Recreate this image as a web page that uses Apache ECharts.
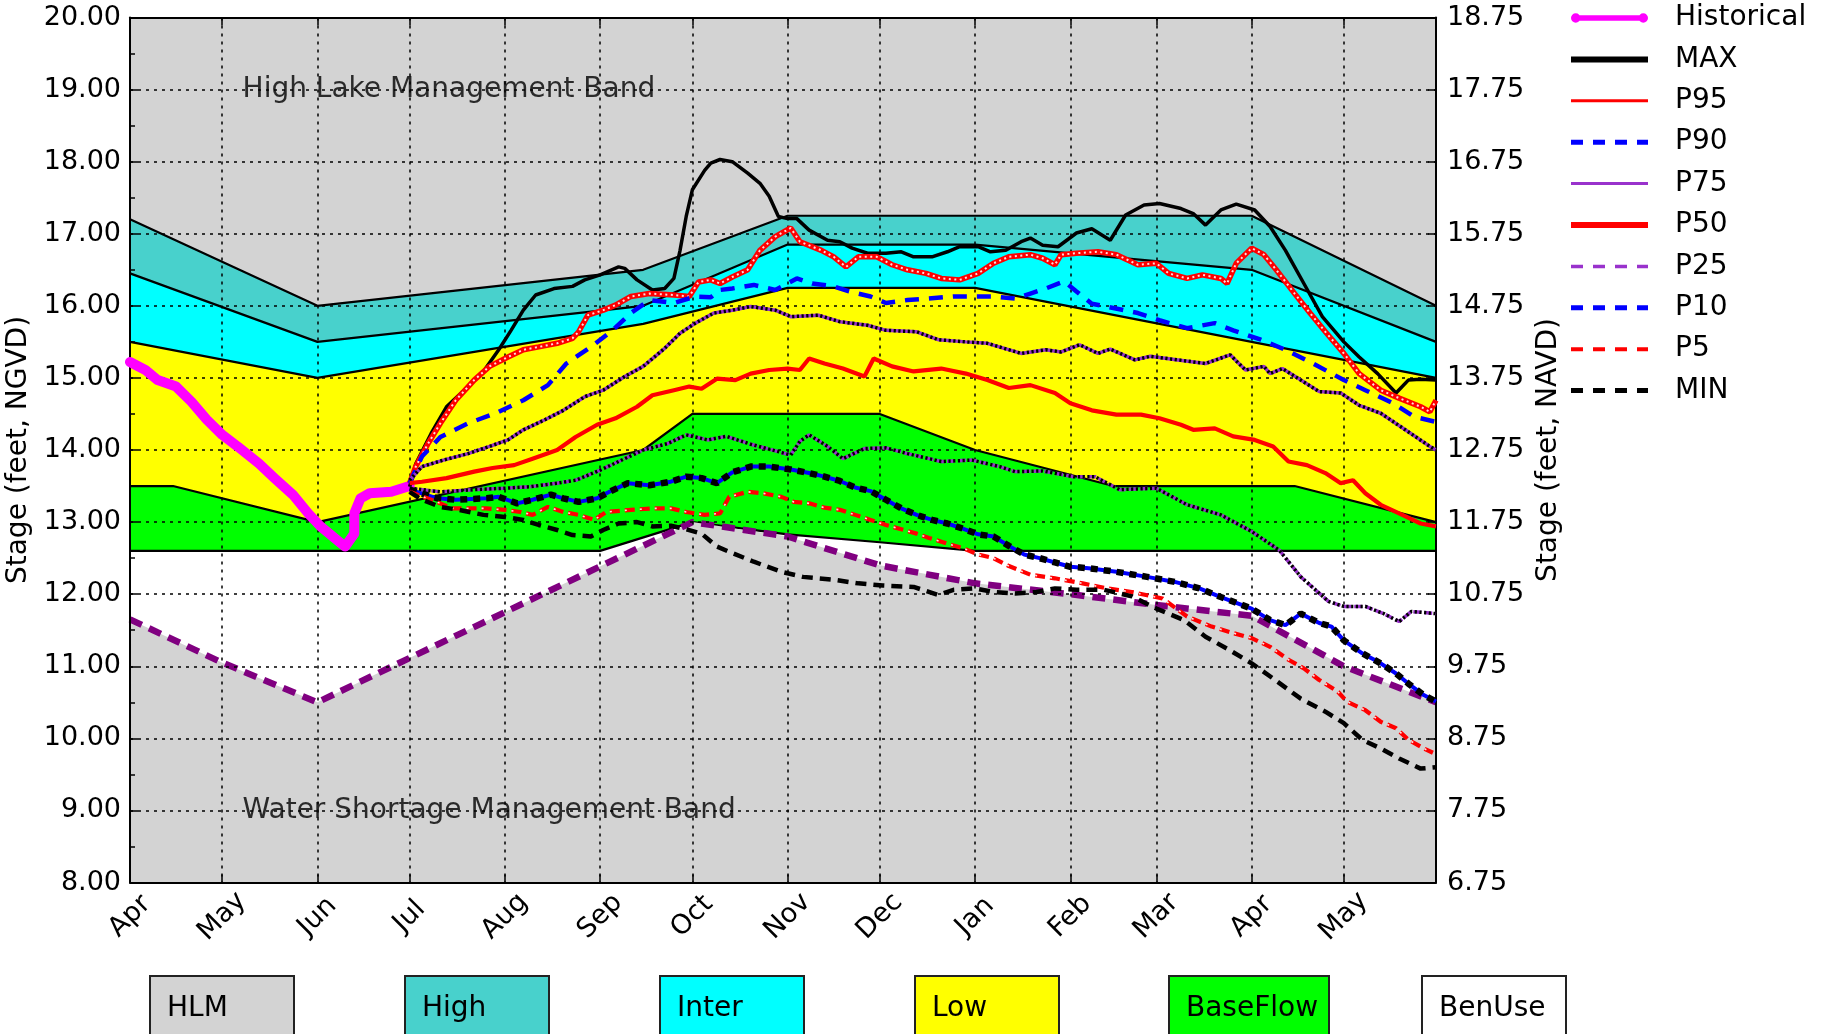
<!DOCTYPE html>
<html><head><meta charset="utf-8">
<script src="https://cdn.jsdelivr.net/npm/echarts@6/dist/echarts.min.js"></script>
<style>html,body{margin:0;padding:0;background:#fff}#c{width:1825px;height:1034px}</style>
</head><body><div id="c"></div>
<script>
// ---- categories (daily, Apr 1 .. May 31 of next year) ----
const monthNames = ['Apr','May','Jun','Jul','Aug','Sep','Oct','Nov','Dec','Jan','Feb','Mar','Apr','May'];
const monthDays  = [30,31,30,31,31,30,31,30,31,31,28,31,30,31];
const leftTicks  = [8,9,10,11,12,13,14,15,16,17,18,19,20];
const rightTicks = [6.75,7.75,8.75,9.75,10.75,11.75,12.75,13.75,14.75,15.75,16.75,17.75,18.75];

// ---- management band boundaries [dayIndex, stage] ----
const bandHighTop   = [[0,17.2],[61,16.0],[167,16.5],[214,17.25],[365,17.25],[425,16.0]];
const bandInterTop  = [[0,16.45],[61,15.5],[167,16.0],[214,16.85],[275,16.85],[365,16.5],[425,15.5]];
const bandLowTop    = [[0,15.5],[61,15.0],[167,15.75],[214,16.25],[275,16.25],[425,15.0]];
const bandBaseTop   = [[0,13.5],[14,13.5],[61,13.0],[167,14.0],[183,14.5],[244,14.5],[275,14.0],[320,13.5],[379,13.5],[425,13.0]];
const bandBaseBottom= [[0,12.6],[153,12.6],[183,13.0],[214,12.83],[244,12.72],[275,12.6],[425,12.6]];
const wsmLine       = [[0,11.65],[30,11.05],[61,10.5],[183,13.0],[214,12.8],[244,12.4],[275,12.15],[306,12.0],[334,11.85],[365,11.7],[395,11.0],[425,10.5]];

// ---- series values [dayIndex, stage] ----
const historical = [[0,15.22],[5,15.11],[9,14.97],[15,14.88],[20,14.67],[25,14.42],[30,14.21],[35,14.05],[42,13.81],[47,13.61],[53,13.38],[58,13.12],[62,12.94],[68,12.73],[70,12.66],[73,12.84],[73,13.12],[75,13.33],[78,13.4],[85,13.42],[91,13.5]];
const pMax = [[91,13.49],[93,13.81],[98,14.23],[103,14.6],[110,14.88],[115,15.09],[120,15.39],[124,15.66],[128,15.94],[132,16.15],[138,16.24],[144,16.27],[148,16.36],[153,16.43],[159,16.54],[161,16.52],[165,16.36],[170,16.22],[174,16.24],[177,16.38],[179,16.77],[181,17.24],[183,17.61],[187,17.88],[189,17.98],[192,18.03],[196,18.0],[201,17.84],[205,17.7],[208,17.52],[211,17.24],[214,17.21],[217,17.21],[221,17.05],[227,16.91],[231,16.89],[235,16.8],[240,16.73],[246,16.73],[251,16.75],[255,16.68],[261,16.68],[266,16.75],[270,16.82],[276,16.82],[280,16.75],[285,16.77],[290,16.89],[293,16.94],[297,16.84],[302,16.82],[308,17.01],[313,17.07],[319,16.91],[324,17.26],[330,17.4],[335,17.42],[342,17.35],[346,17.28],[350,17.12],[355,17.33],[360,17.41],[366,17.33],[371,17.1],[376,16.77],[382,16.31],[388,15.85],[395,15.5],[400,15.29],[406,15.06],[412,14.79],[416,14.97],[420,14.98],[425,14.97]];
const p95 = [[91,13.54],[93,13.77],[97,14.09],[101,14.37],[106,14.69],[112,14.97],[117,15.16],[123,15.29],[128,15.39],[133,15.43],[139,15.48],[144,15.55],[146,15.64],[149,15.87],[154,15.94],[158,16.01],[163,16.13],[169,16.17],[177,16.15],[182,16.13],[185,16.33],[189,16.36],[192,16.31],[196,16.4],[201,16.5],[205,16.77],[210,16.96],[215,17.08],[218,16.89],[225,16.77],[229,16.68],[233,16.54],[237,16.68],[243,16.68],[248,16.57],[253,16.5],[259,16.45],[264,16.38],[270,16.36],[276,16.45],[281,16.59],[286,16.68],[293,16.71],[297,16.66],[301,16.57],[303,16.71],[308,16.73],[315,16.75],[321,16.71],[328,16.57],[334,16.59],[338,16.45],[344,16.38],[349,16.43],[355,16.38],[357,16.31],[360,16.59],[365,16.8],[369,16.71],[373,16.5],[379,16.17],[384,15.9],[389,15.64],[395,15.34],[400,15.06],[407,14.83],[413,14.72],[420,14.6],[423,14.53],[425,14.69]];
const p90 = [[91,13.54],[95,13.91],[101,14.18],[110,14.37],[119,14.51],[128,14.69],[136,14.9],[142,15.2],[150,15.43],[157,15.66],[163,15.9],[169,16.08],[177,16.04],[184,16.13],[189,16.12],[192,16.22],[196,16.24],[203,16.29],[210,16.22],[217,16.38],[222,16.31],[229,16.27],[234,16.2],[241,16.13],[246,16.04],[253,16.08],[259,16.1],[268,16.13],[274,16.13],[281,16.13],[288,16.1],[293,16.17],[298,16.24],[304,16.34],[308,16.2],[313,16.03],[320,15.97],[328,15.9],[335,15.8],[344,15.69],[353,15.76],[359,15.66],[368,15.53],[376,15.39],[385,15.2],[395,14.97],[402,14.83],[411,14.65],[418,14.46],[425,14.39]];
const p75 = [[91,13.58],[95,13.77],[102,13.86],[110,13.95],[117,14.05],[123,14.14],[128,14.28],[135,14.42],[141,14.55],[148,14.74],[154,14.83],[161,15.02],[167,15.16],[174,15.41],[179,15.62],[184,15.76],[190,15.9],[196,15.94],[202,15.99],[210,15.94],[215,15.85],[224,15.87],[231,15.78],[240,15.73],[246,15.66],[256,15.64],[263,15.53],[272,15.5],[279,15.48],[290,15.34],[298,15.39],[303,15.36],[309,15.46],[315,15.34],[319,15.4],[327,15.25],[332,15.3],[341,15.25],[350,15.2],[358,15.32],[363,15.11],[369,15.16],[371,15.06],[375,15.13],[381,14.97],[387,14.81],[394,14.79],[400,14.62],[407,14.51],[415,14.28],[423,14.05],[425,14.0]];
const p50 = [[91,13.54],[95,13.56],[103,13.61],[112,13.7],[118,13.75],[125,13.79],[131,13.88],[139,14.0],[145,14.18],[152,14.35],[158,14.44],[165,14.6],[170,14.76],[177,14.83],[182,14.88],[186,14.85],[191,14.99],[197,14.97],[202,15.06],[208,15.11],[214,15.13],[218,15.11],[221,15.27],[226,15.2],[232,15.13],[239,15.02],[242,15.27],[248,15.16],[255,15.09],[264,15.13],[272,15.06],[279,14.97],[286,14.86],[293,14.9],[301,14.79],[306,14.65],[313,14.55],[321,14.49],[329,14.49],[335,14.44],[342,14.35],[346,14.28],[353,14.3],[359,14.19],[366,14.14],[372,14.05],[377,13.84],[383,13.79],[389,13.68],[394,13.54],[398,13.58],[402,13.4],[407,13.24],[413,13.12],[420,12.98],[425,12.94]];
const p25 = [[91,13.47],[101,13.42],[112,13.45],[122,13.47],[130,13.49],[139,13.54],[145,13.58],[153,13.72],[161,13.88],[167,14.0],[175,14.09],[181,14.21],[188,14.14],[194,14.19],[202,14.08],[209,14.0],[215,13.93],[218,14.12],[221,14.21],[227,14.05],[232,13.88],[239,14.02],[246,14.03],[253,13.95],[264,13.84],[274,13.86],[283,13.77],[288,13.7],[297,13.71],[307,13.63],[314,13.63],[322,13.45],[334,13.47],[344,13.24],[355,13.1],[365,12.87],[374,12.61],[381,12.24],[390,11.9],[395,11.83],[402,11.83],[408,11.73],[413,11.62],[417,11.76],[425,11.73]];
const p10 = [[91,13.45],[100,13.33],[106,13.31],[116,13.33],[120,13.35],[126,13.26],[131,13.31],[137,13.38],[141,13.33],[146,13.28],[152,13.33],[156,13.42],[162,13.54],[169,13.51],[176,13.56],[181,13.63],[186,13.61],[191,13.54],[196,13.69],[202,13.77],[208,13.77],[215,13.73],[221,13.68],[226,13.63],[231,13.57],[236,13.48],[241,13.43],[246,13.31],[251,13.19],[256,13.1],[261,13.03],[266,12.98],[271,12.91],[276,12.83],[281,12.8],[286,12.67],[291,12.55],[296,12.5],[301,12.44],[306,12.38],[312,12.36],[321,12.31],[331,12.24],[340,12.17],[348,12.08],[355,11.96],[365,11.8],[371,11.64],[376,11.57],[381,11.73],[387,11.6],[391,11.55],[395,11.36],[401,11.18],[407,11.04],[412,10.9],[416,10.76],[421,10.6],[425,10.51]];
const p5 = [[91,13.42],[98,13.31],[105,13.19],[111,13.19],[116,13.19],[122,13.17],[127,13.14],[131,13.1],[136,13.21],[141,13.14],[146,13.1],[151,13.03],[155,13.14],[163,13.17],[170,13.19],[176,13.19],[181,13.14],[187,13.1],[192,13.12],[195,13.35],[201,13.42],[206,13.4],[212,13.35],[216,13.28],[221,13.26],[226,13.2],[231,13.17],[236,13.1],[241,13.03],[246,12.96],[251,12.9],[256,12.84],[260,12.78],[266,12.7],[271,12.64],[276,12.55],[281,12.5],[286,12.39],[293,12.27],[301,12.22],[310,12.15],[318,12.08],[326,12.03],[336,11.94],[344,11.69],[352,11.55],[359,11.46],[365,11.39],[371,11.27],[377,11.09],[382,10.97],[387,10.81],[393,10.65],[396,10.51],[402,10.39],[407,10.23],[412,10.14],[416,9.98],[421,9.86],[424,9.8]];
const pMin = [[91,13.42],[95,13.31],[101,13.21],[107,13.17],[115,13.1],[122,13.07],[128,13.03],[133,12.96],[139,12.89],[144,12.82],[150,12.8],[154,12.89],[159,12.98],[165,13.0],[170,12.94],[176,12.95],[181,12.9],[186,12.84],[191,12.66],[196,12.57],[203,12.45],[212,12.31],[219,12.24],[229,12.2],[237,12.15],[245,12.12],[255,12.1],[263,11.99],[268,12.06],[275,12.08],[281,12.03],[288,12.01],[295,12.03],[301,12.08],[308,12.06],[317,12.06],[326,11.97],[334,11.8],[343,11.64],[350,11.41],[358,11.22],[365,11.04],[372,10.83],[381,10.55],[389,10.37],[395,10.21],[401,9.98],[407,9.86],[413,9.72],[420,9.58],[425,9.6]];

const bandLegend = [
  {name:'HLM', color:'#d3d3d3'}, {name:'High', color:'#48d1cc'}, {name:'Inter', color:'#00ffff'},
  {name:'Low', color:'#ffff00'}, {name:'BaseFlow', color:'#00ff00'}, {name:'BenUse', color:'#ffffff'}
];

// ---- build categories ----
const categories = [];
const monthStart = new Set();
monthNames.forEach((m, i) => {
  monthStart.add(categories.length);
  for (let d = 1; d <= monthDays[i]; d++) categories.push(m + ' ' + d);
});
const monthLabelAt = {};
{ let c = 0; monthNames.forEach((m, i) => { monthLabelAt[c] = m; c += monthDays[i]; }); }
const isMonth = (idx) => monthStart.has(idx);

const FONT = 'DejaVu Sans';
const chart = echarts.init(document.getElementById('c'), null, {renderer: 'canvas'});

function band(name, data, color) {
  return {name, type:'line', data, symbol:'none', silent:true, z:1, animation:false,
    lineStyle:{color:'#000', width:2.2}, areaStyle:{color, opacity:1, origin:'start'}};
}
function line(name, data, style, z) {
  return {name, type:'line', data, symbol:'none', z: z || 4, silent:true, animation:false,
    lineStyle: style, itemStyle:{color: style.color}};
}

const series = [
  band('bHigh', bandHighTop, '#48d1cc'),
  band('bInter', bandInterTop, '#00ffff'),
  band('bLow', bandLowTop, '#ffff00'),
  band('bBase', bandBaseTop, '#00ff00'),
  band('bBen', bandBaseBottom, '#ffffff'),
  {name:'wsm', type:'line', data:wsmLine, symbol:'none', silent:true, z:2,
   lineStyle:{color:'#800080', width:6.5, type:[13,8]}, areaStyle:{color:'#d3d3d3', opacity:1, origin:'start'}},
  line('Historical', historical, {color:'#ff00ff', width:10, cap:'round', join:'round'}),
  line('MAX', pMax, {color:'#000000', width:3.5}),
  line('P95', p95, {color:'#ff0000', width:5.5}),
  line('_p95', p95, {color:'#ffdede', width:2, type:[2,3.5]}),
  line('P90', p90, {color:'#0000ff', width:4.5, type:[14,10]}),
  line('P75', p75, {color:'#9932cc', width:3.5}),
  line('_p75', p75, {color:'#000000', width:3.5, type:[2.2,2.5]}),
  line('P50', p50, {color:'#ff0000', width:4.2}),
  line('P25', p25, {color:'#9932cc', width:3.5, type:[8,3]}),
  line('_p25', p25, {color:'#000000', width:3.5, type:[2.2,2.5]}),
  line('P10', p10, {color:'#0000ff', width:4}),
  line('_p10', p10, {color:'#000000', width:6.5, type:[7,6]}),
  line('P5', p5, {color:'#ff0000', width:4.2, type:[10,5]}),
  line('_p5', p5, {color:'#ffdede', width:1.6, type:[2,13]}),
  line('MIN', pMin, {color:'#000000', width:4.5, type:[11,7]}),
  {type:'scatter', data:[[35,19.0]], symbolSize:0.1, itemStyle:{color:'transparent'}, z:6, silent:true,
   label:{show:true, position:'right', distance:5, formatter:'High Lake Management Band', fontSize:28, fontFamily:FONT, color:'#000'}},
  {type:'scatter', data:[[35,9.0]], symbolSize:0.1, itemStyle:{color:'transparent'}, z:6, silent:true,
   label:{show:true, position:'right', distance:5, formatter:'Water Shortage Management Band', fontSize:28, fontFamily:FONT, color:'#000'}}
];

const gridDash = {color:'#000', width:1.5, type:[3,5]};
const graphics = [];
bandLegend.forEach((b, i) => {
  const xs = [149, 404, 659, 914, 1168, 1421][i];
  const w = b.name === 'BaseFlow' ? 160 : 144;
  graphics.push({type:'rect', left: xs, top: 975, shape:{width:w, height:80},
    style:{fill:b.color, stroke:'#222', lineWidth:2}, z:10});
  graphics.push({type:'text', left: xs + 18, top: 995, style:{text:b.name, fontSize:28, fontFamily:FONT, fill:'#000'}, z:11});
});

const noSym = {opacity:0};
chart.setOption({
  animation:false,
  backgroundColor:'#ffffff',
  grid:{left:130, right:389, top:17.5, bottom:151.5, show:true, backgroundColor:'#d3d3d3', borderWidth:0, containLabel:false, outerBoundsMode:'none'},
  legend:{orient:'vertical', left:1568, top:3, padding:0, itemWidth:77, itemHeight:14, itemGap:11.4,
    textStyle:{fontSize:28, lineHeight:30, fontFamily:FONT, color:'#000', padding:[0,0,0,22]},
    selectedMode:false,
    data:[
      {name:'Historical', icon:'path://M0,3 L100,3 L100,11 L0,11 Z M-7,7 a7,7 0 1,1 14,0 a7,7 0 1,1 -14,0 Z M93,7 a7,7 0 1,1 14,0 a7,7 0 1,1 -14,0 Z', itemStyle:{color:'#ff00ff'}},
      {name:'MAX', lineStyle:{width:6}, itemStyle:noSym},
      {name:'P95', lineStyle:{width:3}, itemStyle:noSym},
      {name:'P90', lineStyle:{width:5, type:[12,10]}, itemStyle:noSym},
      {name:'P75', lineStyle:{width:3}, itemStyle:noSym},
      {name:'P50', lineStyle:{width:6}, itemStyle:noSym},
      {name:'P25', lineStyle:{width:3.5, type:[12,10]}, itemStyle:noSym},
      {name:'P10', lineStyle:{width:5, type:[12,10]}, itemStyle:noSym},
      {name:'P5', lineStyle:{width:4, type:[12,10]}, itemStyle:noSym},
      {name:'MIN', lineStyle:{width:5, type:[12,10]}, itemStyle:noSym}
    ]},
  xAxis:[
    {type:'category', data:categories, boundaryGap:false, position:'bottom', z:3,
     axisLine:{show:true, onZero:false, lineStyle:{color:'#000', width:2}},
     axisTick:{show:true, inside:true, length:8, interval:(i)=>isMonth(i), lineStyle:{color:'#000', width:1.5}},
     axisLabel:{show:true, interval:(i)=>isMonth(i), formatter:(v,i)=>monthLabelAt[i] || '', rotate:45, margin:34,
       align:'center', verticalAlign:'middle', fontSize:27, fontFamily:FONT, color:'#000'},
     splitLine:{show:true, interval:(i)=>isMonth(i), lineStyle:gridDash}},
    {type:'category', data:categories, boundaryGap:false, position:'top', z:3,
     axisLine:{show:true, onZero:false, lineStyle:{color:'#000', width:2}},
     axisTick:{show:true, inside:true, length:8, interval:(i)=>isMonth(i), lineStyle:{color:'#000', width:1.5}},
     axisLabel:{show:false}, splitLine:{show:false}}
  ],
  yAxis:[
    {type:'value', min:leftTicks[0], max:leftTicks[leftTicks.length-1], interval:1, position:'left', z:3,
     name:'Stage (feet, NGVD)', nameLocation:'middle', nameGap:85, nameRotate:90,
     nameTextStyle:{fontSize:28, fontFamily:FONT, color:'#000'},
     axisLine:{show:true, lineStyle:{color:'#000', width:2}},
     axisTick:{show:true, inside:true, length:8, lineStyle:{color:'#000', width:1.5}},
     minorTick:{show:true, splitNumber:2, length:5, lineStyle:{color:'#000', width:1.5}},
     axisLabel:{formatter:(v)=>v.toFixed(2), margin:9, fontSize:27, fontFamily:FONT, color:'#000'},
     splitLine:{show:true, lineStyle:gridDash}},
    {type:'value', min:rightTicks[0], max:rightTicks[rightTicks.length-1], interval:1, position:'right', z:3,
     name:'Stage (feet, NAVD)', nameLocation:'middle', nameGap:83, nameRotate:90,
     nameTextStyle:{fontSize:28, fontFamily:FONT, color:'#000'},
     axisLine:{show:true, lineStyle:{color:'#000', width:2}},
     axisTick:{show:true, inside:true, length:8, lineStyle:{color:'#000', width:1.5}},
     axisLabel:{formatter:(v)=>v.toFixed(2), margin:11, fontSize:27, fontFamily:FONT, color:'#000'},
     splitLine:{show:false}}
  ],
  graphic: graphics,
  series: series
});
</script></body></html>
